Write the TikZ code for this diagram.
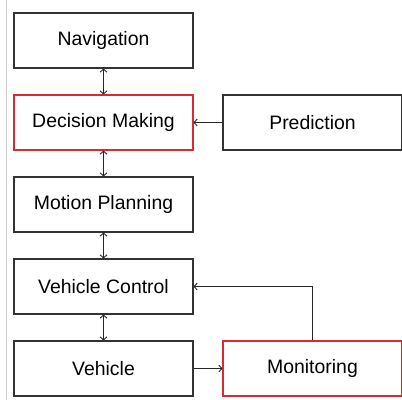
\documentclass[tikz,border=0pt]{standalone}
\usepackage{fontspec}
\setmainfont{Liberation Sans}
\usetikzlibrary{positioning,arrows.meta}

\definecolor{blockred}{RGB}{220,40,50}

\begin{document}
\begin{tikzpicture}[
  x=1bp, y=1bp,
  node distance=25.8bp and 28.8bp,
  block/.style={draw=black!80, line width=1.2bp, minimum width=179bp,
    minimum height=55bp, inner sep=0pt, font=\fontsize{19.5}{23}\selectfont},
  hot/.style={block, draw=blockred},
  link/.style={line width=0.9bp, black!85,
    arrows={-Straight Barb[length=3bp,width=7bp]}},
  dlink/.style={link,
    arrows={Straight Barb[length=3bp,width=7bp]-Straight Barb[length=3bp,width=7bp]}},
]

\useasboundingbox (0,0) rectangle (402,400);
\draw [black!20, line width=1bp] (6,0) -- (6,400);

\node [block] (nav) at (103.5,359.5) {Navigation};
\node [hot, below=of nav] (dec) {Decision Making};
\node [block, below=of dec] (plan) {Motion Planning};
\node [block, below=of plan] (ctrl) {Vehicle Control};
\node [block, below=of ctrl] (veh) {Vehicle};

\node [block, right=of dec] (pred) {Prediction};
\node [hot, right=of veh] (mon) {Monitoring};

\draw [dlink] (nav) -- (dec);
\draw [dlink] (dec) -- (plan);
\draw [dlink] (plan) -- (ctrl);
\draw [dlink] (ctrl) -- (veh);

\draw [link] (pred) -- (dec);
\draw [link] (veh) -- (mon);
\draw [link] (mon.north) |- (ctrl.east);

\end{tikzpicture}
\end{document}
